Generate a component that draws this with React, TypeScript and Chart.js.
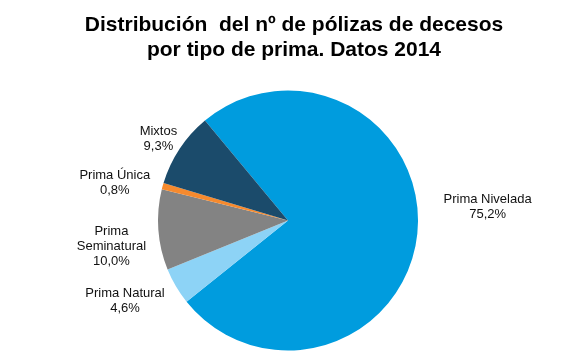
import React, { useEffect, useRef } from "react";
import { Chart, registerables } from "chart.js";

Chart.register(...registerables);

const categories = ["Prima Nivelada", "Prima Natural", "Prima Seminatural", "Prima Única", "Mixtos"];
const labelLines = [["Prima Nivelada"], ["Prima Natural"], ["Prima", "Seminatural"], ["Prima Única"], ["Mixtos"]];
const shares = [75.2, 4.6, 10.0, 0.8, 9.3];
const colors = ["#009CDE", "#8DD3F6", "#838383", "#F68A2E", "#1B4B6B"];
const titleLines = ["Distribución  del nº de pólizas de decesos", "por tipo de prima. Datos 2014"];

// label placement relative to slice (radius factor, angle nudge in degrees)
const labelRadius = [1.541, 1.386, 1.363, 1.37, 1.196];
const labelNudge = [-10.7, 5.2, -0.6, -1.9, 0];

const textPlugin = {
  id: "textPlugin",
  afterDraw(chart: any) {
    const ctx = chart.ctx;
    ctx.save();
    // title
    ctx.fillStyle = "#000";
    ctx.textAlign = "center";
    ctx.textBaseline = "alphabetic";
    ctx.font = "bold 21px 'Liberation Sans', Arial, sans-serif";
    ctx.fillText(titleLines[0], 294, 31);
    ctx.fillText(titleLines[1], 294, 56);
    // labels
    ctx.font = "13px 'Liberation Sans', Arial, sans-serif";
    ctx.fillStyle = "#111";
    const meta = chart.getDatasetMeta(0);
    meta.data.forEach((arc: any, i: number) => {
      const p = arc.getProps(["x", "y", "startAngle", "endAngle", "outerRadius"], true);
      const mid = (p.startAngle + p.endAngle) / 2 + (labelNudge[i] * Math.PI) / 180;
      const d = p.outerRadius * labelRadius[i];
      const ax = p.x + Math.cos(mid) * d;
      const ay = p.y + Math.sin(mid) * d;
      const pct = shares[i].toFixed(1).replace(".", ",") + "%";
      const lines = [...labelLines[i], pct];
      lines.forEach((t, k) => ctx.fillText(t, ax, ay + k * 15));
    });
    ctx.restore();
  },
};

export default function App() {
  const ref = useRef<HTMLCanvasElement>(null);
  useEffect(() => {
    document.body.style.margin = "0";
    document.body.style.overflow = "hidden";
    const chart = new Chart(ref.current!, {
      type: "pie",
      data: {
        labels: categories,
        datasets: [
          {
            data: shares,
            backgroundColor: colors,
            borderWidth: 0,
            hoverOffset: 0,
          },
        ],
      },
      options: {
        responsive: false,
        animation: false,
        devicePixelRatio: 1,
        events: [],
        rotation: -39.7,
        layout: { padding: { top: 90.5, bottom: 13.5, left: 10, right: 17 } },
        plugins: {
          legend: { display: false },
          title: { display: false },
          tooltip: { enabled: false },
        },
      },
      plugins: [textPlugin],
    });
    return () => chart.destroy();
  }, []);
  return (
    <div style={{ width: 583, height: 364, background: "#fff" }}>
      <canvas ref={ref} width={583} height={364} style={{ display: "block" }} />
    </div>
  );
}
